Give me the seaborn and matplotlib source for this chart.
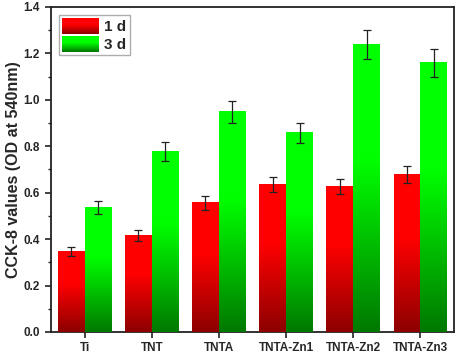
import numpy as np
import pandas as pd
import seaborn as sns
import matplotlib
matplotlib.use("Agg")
import matplotlib.pyplot as plt
from matplotlib.patches import Rectangle
from matplotlib.legend_handler import HandlerBase
from matplotlib.ticker import MultipleLocator, FormatStrFormatter

# data
samples = ["Ti", "TNT", "TNTA", "TNTA-Zn1", "TNTA-Zn2", "TNTA-Zn3"]
days = ["1 d", "3 d"]
od_1d = [0.348, 0.417, 0.557, 0.636, 0.628, 0.678]
err_1d = [0.019, 0.023, 0.030, 0.031, 0.032, 0.036]
od_3d = [0.538, 0.778, 0.948, 0.858, 1.240, 1.159]
err_3d = [0.028, 0.040, 0.047, 0.044, 0.062, 0.059]

top_cols = {"1 d": (1.0, 0.0, 0.0), "3 d": (0.0, 1.0, 0.0)}
bot_cols = {"1 d": (0.55, 0.0, 0.0), "3 d": (0.0, 0.47, 0.0)}

df = pd.DataFrame({
    "sample": samples * 2,
    "day": [days[0]] * len(samples) + [days[1]] * len(samples),
    "od": od_1d + od_3d,
})
errs = err_1d + err_3d


def ramp(day, f):
    # bright over the upper part of a bar, darkening towards the bottom
    t = min(max(f / 0.6, 0.0), 1.0)
    top = np.array(top_cols[day])
    bot = np.array(bot_cols[day])
    return tuple(bot + (top - bot) * t)


def grad_image(day, n=128):
    img = np.array([ramp(day, (i + 0.5) / n) for i in range(n)])
    return img.reshape(n, 1, 3)


class GradHandler(HandlerBase):
    def __init__(self, day):
        super().__init__()
        self.day = day

    def create_artists(self, legend, orig_handle, xdescent, ydescent,
                       width, height, fontsize, trans):
        n = 24
        arts = []
        for i in range(n):
            r = Rectangle((-xdescent, -ydescent + i * height / n), width,
                          height / n * 1.05, facecolor=ramp(self.day, (i + 0.5) / n),
                          edgecolor="none", transform=trans)
            arts.append(r)
        return arts


sns.set_style("white")
plt.rcParams["font.family"] = ["Liberation Sans", "DejaVu Sans"]
plt.rcParams["font.weight"] = "bold"

fig = plt.figure(figsize=(4.57, 3.55), dpi=100)
ax = fig.add_axes([0.1116, 0.0648, 0.8818, 0.9155])

sns.barplot(data=df, x="sample", y="od", hue="day", order=samples,
            hue_order=days, palette=[top_cols[d] for d in days],
            width=0.8, errorbar=None, legend=False, ax=ax, zorder=2)

bars = [p for p in ax.patches]
for k, p in enumerate(bars):
    day = days[0] if k < len(samples) else days[1]
    x0, w, h = p.get_x(), p.get_width(), p.get_height()
    ax.imshow(grad_image(day), extent=[x0, x0 + w, 0, h], origin="lower",
              aspect="auto", interpolation="bilinear", zorder=3)
    p.set_edgecolor("none")
    ax.errorbar(x0 + w / 2, h, yerr=errs[k], fmt="none", ecolor="#222222",
                elinewidth=0.9, capsize=3, capthick=0.9, zorder=4)

ax.set_xlim(-0.5, len(samples) - 0.5)
ax.set_ylim(0, 1.4)
ax.yaxis.set_major_locator(MultipleLocator(0.2))
ax.yaxis.set_minor_locator(MultipleLocator(0.1))
ax.yaxis.set_major_formatter(FormatStrFormatter("%.1f"))
ax.tick_params(axis="both", which="major", direction="out", length=4,
               width=1.2, color="#222222", labelsize=8.5,
               bottom=True, left=True, top=False, right=False)
ax.tick_params(axis="y", which="major", pad=4)
ax.tick_params(axis="x", which="major", pad=3)
ax.tick_params(axis="y", which="minor", direction="out", length=2.5,
               width=1.0, color="#222222", left=True)
for lab in ax.get_xticklabels() + ax.get_yticklabels():
    lab.set_fontweight("bold")

for s in ax.spines.values():
    s.set_visible(True)
    s.set_color("#222222")
    s.set_linewidth(1.3)

ax.set_xlabel("")
ax.set_ylabel("CCK-8 values (OD at 540nm)", fontsize=11.5, fontweight="bold",
              labelpad=2)

handles = [Rectangle((0, 0), 1, 1) for _ in days]
leg = ax.legend(handles, days, loc="upper left",
                handler_map={handles[0]: GradHandler(days[0]),
                             handles[1]: GradHandler(days[1])},
                prop={"size": 11, "weight": "bold"}, frameon=True, fancybox=False,
                handlelength=2.4, handleheight=1.15, labelspacing=0.15,
                handletextpad=0.35, borderpad=0.2, borderaxespad=0.55)
leg.get_frame().set_edgecolor("#999999")
leg.get_frame().set_linewidth(1.0)

fig.savefig("out.png", dpi=100)
